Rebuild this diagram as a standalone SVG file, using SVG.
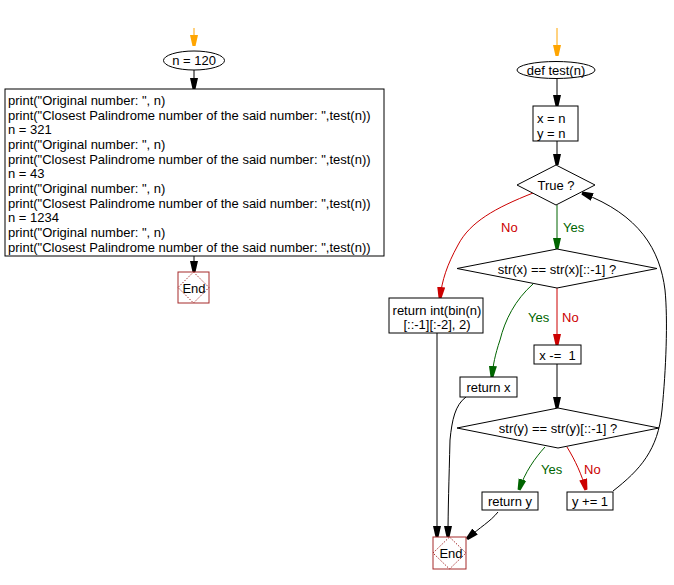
<svg xmlns="http://www.w3.org/2000/svg" width="674" height="585" viewBox="0 0 674 585">
<style>
text{font-family:"Liberation Sans",Arial,sans-serif;font-size:13px;fill:#000}
.b{fill:#fff;stroke:#000;stroke-width:1}
.c{fill:none;stroke:#000;stroke-width:1}
.g{stroke:#006400}
.r{stroke:#cc0000}
.o{stroke:#ffa500}
.gt{fill:#006400}
.rt{fill:#cc0000}
.endsq{fill:#fff;stroke:#a52a2a;stroke-width:1}
.endd{fill:none;stroke:#a52a2a;stroke-width:1;stroke-dasharray:1.5,1.5}
.m{text-anchor:middle}
</style>
<defs>
<marker id="ab" markerUnits="userSpaceOnUse" markerWidth="12" markerHeight="10" refX="11" refY="5" orient="auto" viewBox="0 0 12 10"><path d="M0,1 L11,3.5 L11,6.5 L0,9 Z" fill="#000"/></marker>
<marker id="ag" markerUnits="userSpaceOnUse" markerWidth="12" markerHeight="10" refX="11" refY="5" orient="auto" viewBox="0 0 12 10"><path d="M0,1 L11,3.5 L11,6.5 L0,9 Z" fill="#006400"/></marker>
<marker id="ar" markerUnits="userSpaceOnUse" markerWidth="12" markerHeight="10" refX="11" refY="5" orient="auto" viewBox="0 0 12 10"><path d="M0,1 L11,3.5 L11,6.5 L0,9 Z" fill="#cc0000"/></marker>
<marker id="ao" markerUnits="userSpaceOnUse" markerWidth="12" markerHeight="10" refX="11" refY="5" orient="auto" viewBox="0 0 12 10"><path d="M0,1 L11,3.5 L11,6.5 L0,9 Z" fill="#ffa500"/></marker>
</defs>

<g id="connectors">
<path class="c o" d="M194,28 L194,46" marker-end="url(#ao)"/>
<path class="c" d="M194,70 L194,89" marker-end="url(#ab)"/>
<path class="c" d="M194,256 L194,272" marker-end="url(#ab)"/>
<path class="c o" d="M557,28 L557,56" marker-end="url(#ao)"/>
<path class="c" d="M557,79 L557,106" marker-end="url(#ab)"/>
<path class="c" d="M557,141 L557,165" marker-end="url(#ab)"/>
<path class="c g" d="M557,205 L557,249" marker-end="url(#ag)"/>
<path class="c r" d="M533,193 C495,208 470,222 458,245 C447,265 442,280 440,298" marker-end="url(#ar)"/>
<path class="c g" d="M533,284 C515,300 505,320 500,340 C495,355 493,365 492,377" marker-end="url(#ag)"/>
<path class="c r" d="M557,288 L557,345" marker-end="url(#ar)"/>
<path class="c" d="M557,364 L557,408" marker-end="url(#ab)"/>
<path class="c g" d="M545,447 C535,458 525,472 519,490" marker-end="url(#ag)"/>
<path class="c r" d="M567,447 C575,460 582,475 586,490" marker-end="url(#ar)"/>
<path class="c" d="M613,491 C640,470 658,450 662,410 C666,370 668,320 665,290 C660,250 640,215 582,193" marker-end="url(#ab)"/>
<path class="c" d="M437,333 L437,537" marker-end="url(#ab)"/>
<path class="c" d="M466,397 C455,405 452,420 450,440 C449,480 448,510 448,537" marker-end="url(#ab)"/>
<path class="c" d="M498,512 C490,522 480,527 467,539" marker-end="url(#ab)"/>
</g>

<g id="start1">
<ellipse class="b" cx="194" cy="60.5" rx="30.5" ry="9.5"/>
<text class="m" x="194" y="65">n = 120</text>
</g>

<g id="main">
<rect class="b" x="5" y="89" width="379" height="167"/>
<text x="8" y="105">print("Original number: ", n)</text>
<text x="8" y="119.7">print("Closest Palindrome number of the said number: ",test(n))</text>
<text x="8" y="134.3">n = 321</text>
<text x="8" y="149">print("Original number: ", n)</text>
<text x="8" y="163.7">print("Closest Palindrome number of the said number: ",test(n))</text>
<text x="8" y="178.3">n = 43</text>
<text x="8" y="193">print("Original number: ", n)</text>
<text x="8" y="207.7">print("Closest Palindrome number of the said number: ",test(n))</text>
<text x="8" y="222.3">n = 1234</text>
<text x="8" y="237">print("Original number: ", n)</text>
<text x="8" y="251.7">print("Closest Palindrome number of the said number: ",test(n))</text>
</g>

<g id="end1">
<rect class="endsq" x="178" y="272" width="31" height="31"/>
<path class="endd" d="M193.5,272 L209,287.5 L193.5,303 L178,287.5 Z"/>
<text class="m" x="194" y="293">End</text>
</g>

<g id="start2">
<ellipse class="b" cx="556" cy="70" rx="39" ry="8.5"/>
<text class="m" x="556" y="74.5">def test(n)</text>
</g>

<g id="assign">
<rect class="b" x="533" y="106" width="45" height="35"/>
<text x="537" y="123">x = n</text>
<text x="537" y="138">y = n</text>
</g>

<g id="loop">
<path class="b" d="M556,165 L595,185 L556,205 L517,185 Z"/>
<text class="m" x="556" y="190">True ?</text>
</g>

<g id="checkx">
<path class="b" d="M557,249 L657,268.5 L557,288 L457,268.5 Z"/>
<text class="m" x="557" y="274">str(x) == str(x)[::-1] ?</text>
</g>

<g id="retint">
<rect class="b" x="389" y="298" width="94" height="35"/>
<text class="m" x="437" y="315">return int(bin(n)</text>
<text class="m" x="437" y="329">[::-1][:-2], 2)</text>
</g>

<g id="retx">
<rect class="b" x="460" y="377" width="57" height="20"/>
<text class="m" x="488.5" y="392">return x</text>
</g>

<g id="decx">
<rect class="b" x="534" y="345" width="47" height="19"/>
<text class="m" x="557.5" y="360" xml:space="preserve">x -=  1</text>
</g>

<g id="checky">
<path class="b" d="M558,408 L659,428 L558,448 L457,428 Z"/>
<text class="m" x="558" y="433">str(y) == str(y)[::-1] ?</text>
</g>

<g id="rety">
<rect class="b" x="482" y="492" width="56" height="18"/>
<text class="m" x="510" y="506">return y</text>
</g>

<g id="incy">
<rect class="b" x="567" y="492" width="46" height="18"/>
<text class="m" x="590" y="506">y += 1</text>
</g>

<g id="end2">
<rect class="endsq" x="433" y="537" width="33" height="32"/>
<path class="endd" d="M449.5,537 L466,553 L449.5,569 L433,553 Z"/>
<text class="m" x="451" y="558">End</text>
</g>

<g id="labels">
<text class="rt" x="501" y="232">No</text>
<text class="gt" x="563" y="232">Yes</text>
<text class="gt" x="528" y="322">Yes</text>
<text class="rt" x="562" y="322">No</text>
<text class="gt" x="541" y="474">Yes</text>
<text class="rt" x="584" y="474">No</text>
</g>
</svg>
